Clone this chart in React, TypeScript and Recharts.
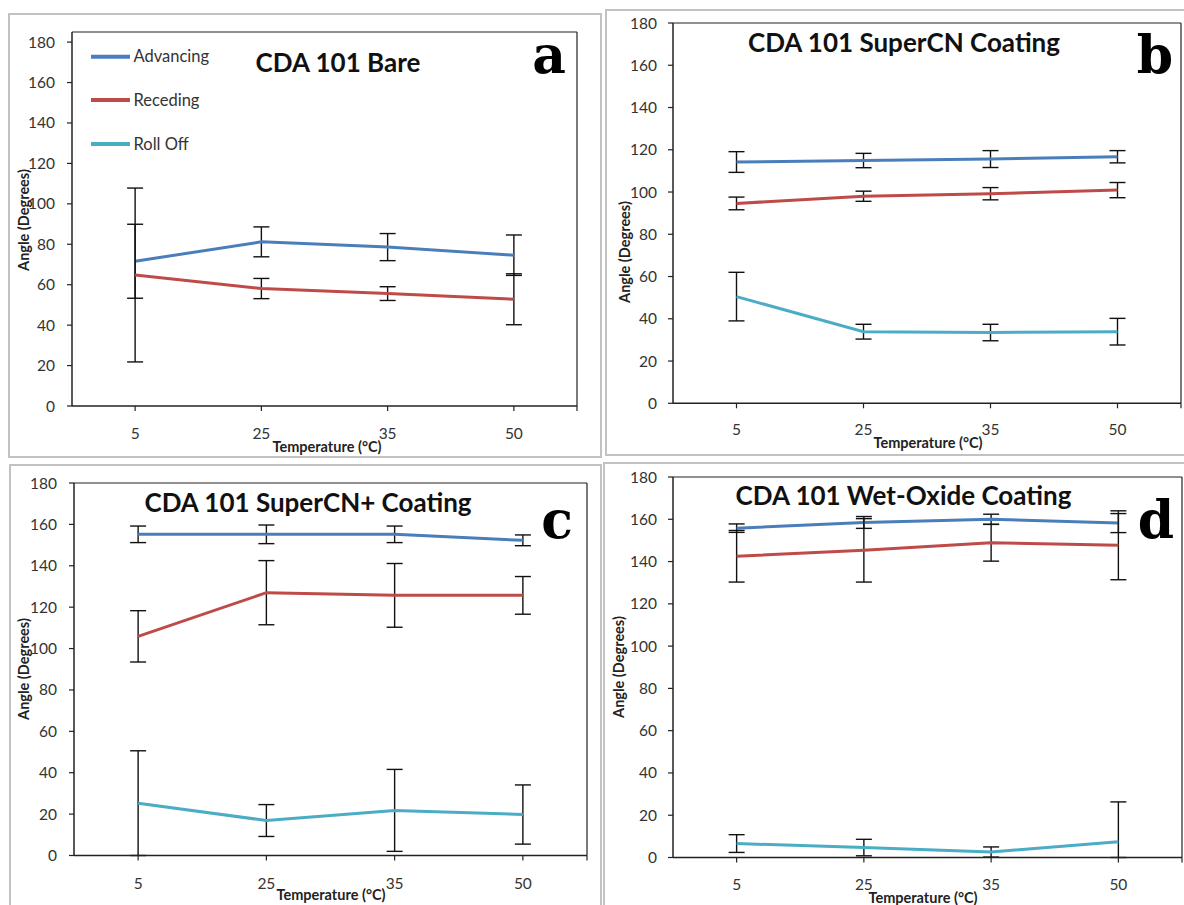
import React from 'react';
import { LineChart, Line, XAxis, YAxis, ErrorBar, ReferenceLine } from 'recharts';

// ---------- data ----------
const categories = ['5', '25', '35', '50'];
const yTicks = [0, 20, 40, 60, 80, 100, 120, 140, 160, 180];

// Panel a: CDA 101 Bare
const aAdvancing = [71.6, 81.2, 78.6, 74.6];
const aAdvancingErr = [18.3, 7.4, 6.7, 10.0];
const aReceding = [64.8, 58.1, 55.6, 52.8];
const aRecedingErr = [43.0, 5.0, 3.4, 12.6];

// Panel b: CDA 101 SuperCN Coating
const bAdvancing = [114.2, 114.9, 115.6, 116.7];
const bAdvancingErr = [4.9, 3.4, 4.0, 2.9];
const bReceding = [94.6, 98.0, 99.2, 100.9];
const bRecedingErr = [3.0, 2.4, 2.9, 3.6];
const bRollOff = [50.5, 33.9, 33.5, 33.9];
const bRollOffErr = [11.5, 3.5, 3.9, 6.3];

// Panel c: CDA 101 SuperCN+ Coating
const cAdvancing = [155.2, 155.2, 155.2, 152.3];
const cAdvancingErr = [4.0, 4.5, 4.0, 2.6];
const cReceding = [105.9, 127.0, 125.7, 125.7];
const cRecedingErr = [12.4, 15.5, 15.4, 9.1];
const cRollOff = [25.3, 16.9, 21.8, 19.8];
const cRollOffErr = [25.3, 7.7, 19.8, 14.3];

// Panel d: CDA 101 Wet-Oxide Coating
const dAdvancing = [155.8, 158.5, 160.0, 158.2];
const dAdvancingErr = [2.0, 2.8, 2.4, 4.5];
const dReceding = [142.5, 145.3, 148.9, 147.7];
const dRecedingErr = [12.2, 15.0, 8.7, 16.3];
const dRollOff = [6.6, 4.7, 2.6, 7.4];
const dRollOffErr = [4.2, 3.9, 2.4, 18.9];

const seriesNames = ['Advancing', 'Receding', 'Roll Off'];
const COLORS = { adv: '#4A7EBB', rec: '#BE4B48', roll: '#4BACC6' };

// error pair [minus, plus], minus clipped at the axis (0)
const pair = (v: number, e: number) => [Math.min(e, v), e];

function buildRows(adv: number[], advE: number[], rec: number[], recE: number[], roll?: number[], rollE?: number[]) {
  return categories.map((c, i) => {
    const row: any = {
      x: i,
      cat: c,
      adv: adv[i],
      advErr: pair(adv[i], advE[i]),
      rec: rec[i],
      recErr: pair(rec[i], recE[i]),
    };
    if (roll && rollE) {
      row.roll = roll[i];
      row.rollErr = pair(roll[i], rollE[i]);
    }
    return row;
  });
}

const dataA = buildRows(aAdvancing, aAdvancingErr, aReceding, aRecedingErr);
const dataB = buildRows(bAdvancing, bAdvancingErr, bReceding, bRecedingErr, bRollOff, bRollOffErr);
const dataC = buildRows(cAdvancing, cAdvancingErr, cReceding, cRecedingErr, cRollOff, cRollOffErr);
const dataD = buildRows(dAdvancing, dAdvancingErr, dReceding, dRecedingErr, dRollOff, dRollOffErr);

const FONT = 'Lato, "Open Sans", sans-serif';
const AX = '#222';
const TICK_FS = 15.5;

type PanelProps = {
  data: any[];
  plotLeft: number;
  plotTop: number;
  plotRight: number;
  plotBottom: number;
  yMax: number;
  hasRoll: boolean;
  xTickMargin: number;
  yTickMargin: number;
};

function Panel({ data, plotLeft, plotTop, plotRight, plotBottom, yMax, hasRoll, xTickMargin, yTickMargin }: PanelProps) {
  const YW = 60;
  const MT = 10;
  const MR = 6;
  const XH = 40;
  const left = plotLeft - YW;
  const top = plotTop - MT;
  const width = plotRight + MR - left;
  const height = plotBottom + XH - top;
  const errProps = { width: 8, stroke: '#111', strokeWidth: 1.4, direction: 'y' as const };
  return (
    <div style={{ position: 'absolute', left, top, width, height }}>
      <LineChart width={width} height={height} data={data} margin={{ top: MT, right: MR, bottom: 0, left: 0 }}>
        <XAxis
          type="number"
          dataKey="x"
          domain={[-0.5, 3.5]}
          ticks={[0, 1, 2, 3, 3.5]}
          allowDataOverflow
          tickFormatter={(v: number) => (Number.isInteger(v) ? categories[v] : '')}
          height={XH}
          tickSize={5}
          tickMargin={xTickMargin}
          axisLine={{ stroke: AX, strokeWidth: 1.5 }}
          tickLine={{ stroke: AX, strokeWidth: 1.2 }}
          tick={{ fill: '#333', fontSize: TICK_FS, fontFamily: FONT }}
        />
        <YAxis
          type="number"
          domain={[0, yMax]}
          ticks={yTicks}
          allowDataOverflow
          width={YW}
          tickSize={5}
          tickMargin={yTickMargin}
          axisLine={{ stroke: AX, strokeWidth: 1.5 }}
          tickLine={{ stroke: AX, strokeWidth: 1.2 }}
          tick={{ fill: '#333', fontSize: TICK_FS, fontFamily: FONT }}
        />
        <ReferenceLine y={yMax} stroke={AX} strokeWidth={1.2} />
        <ReferenceLine x={3.5} stroke={AX} strokeWidth={1.2} />
        <Line dataKey="adv" name={seriesNames[0]} stroke={COLORS.adv} strokeWidth={3} dot={false} isAnimationActive={false}>
          <ErrorBar dataKey="advErr" {...errProps} />
        </Line>
        <Line dataKey="rec" name={seriesNames[1]} stroke={COLORS.rec} strokeWidth={3} dot={false} isAnimationActive={false}>
          <ErrorBar dataKey="recErr" {...errProps} />
        </Line>
        {hasRoll && (
          <Line dataKey="roll" name={seriesNames[2]} stroke={COLORS.roll} strokeWidth={3} dot={false} isAnimationActive={false}>
            <ErrorBar dataKey="rollErr" {...errProps} />
          </Line>
        )}
      </LineChart>
    </div>
  );
}

const titles = ['CDA 101 Bare', 'CDA 101 SuperCN Coating', 'CDA 101 SuperCN+ Coating', 'CDA 101 Wet-Oxide Coating'];
const letters = ['a', 'b', 'c', 'd'];
const yLabel = 'Angle (Degrees)';
const xLabel = 'Temperature (°C)';

export default function App() {
  const titlePos = [
    [338, 72],
    [904, 52],
    [308, 511.5],
    [903.5, 505],
  ];
  const letterPos = [
    [549, 73],
    [1155, 73],
    [557, 538],
    [1156, 538],
  ];
  const yLabelPos = [
    [23, 220],
    [624, 252],
    [23, 669],
    [618, 667],
  ];
  const xLabelPos = [
    [327, 452],
    [928, 447.5],
    [331, 900],
    [923, 903],
  ];
  const legendY = [56.7, 100, 144];
  const legendColors = [COLORS.adv, COLORS.rec, COLORS.roll];
  const border = '2px solid #c2c2c2';
  return (
    <div style={{ position: 'absolute', left: 0, top: 0, width: 1184, height: 905, overflow: 'hidden', background: '#fff' }}>
      <div style={{ position: 'absolute', left: 8, top: 13, width: 594, height: 445, border, boxSizing: 'border-box' }} />
      <div style={{ position: 'absolute', left: 605, top: 9, width: 600, height: 447, border, boxSizing: 'border-box' }} />
      <div style={{ position: 'absolute', left: 9, top: 464, width: 593, height: 460, border, boxSizing: 'border-box' }} />
      <div style={{ position: 'absolute', left: 603, top: 462, width: 600, height: 460, border, boxSizing: 'border-box' }} />

      <Panel data={dataA} plotLeft={72} plotTop={32} plotRight={577} plotBottom={406} yMax={185} hasRoll={false} xTickMargin={17} yTickMargin={12} />
      <Panel data={dataB} plotLeft={673} plotTop={23} plotRight={1181} plotBottom={403.3} yMax={180} hasRoll={true} xTickMargin={16} yTickMargin={11} />
      <Panel data={dataC} plotLeft={74} plotTop={482.5} plotRight={587} plotBottom={855} yMax={180} hasRoll={true} xTickMargin={17} yTickMargin={12} />
      <Panel data={dataD} plotLeft={673} plotTop={476.5} plotRight={1182} plotBottom={857} yMax={180} hasRoll={true} xTickMargin={16} yTickMargin={11} />

      <svg width={1184} height={905} style={{ position: 'absolute', left: 0, top: 0, pointerEvents: 'none' }}>
        {titles.map((t, i) => (
          <text key={'t' + i} x={titlePos[i][0]} y={titlePos[i][1]} textAnchor="middle" fontFamily={FONT} fontWeight="bold" fontSize={26} fill="#111">
            {t}
          </text>
        ))}
        {letters.map((t, i) => (
          <text key={'l' + i} x={letterPos[i][0]} y={letterPos[i][1]} textAnchor="middle" fontFamily='"DejaVu Serif", "Liberation Serif", serif' fontWeight="bold" fontSize={52} fill="#000">
            {t}
          </text>
        ))}
        {yLabelPos.map((p, i) => (
          <text key={'y' + i} transform={`translate(${p[0]},${p[1]}) rotate(-90)`} textAnchor="middle" dominantBaseline="central" fontFamily={FONT} fontWeight="bold" fontSize={14.5} fill="#222">
            {yLabel}
          </text>
        ))}
        {xLabelPos.map((p, i) => (
          <text key={'x' + i} x={p[0]} y={p[1]} textAnchor="middle" fontFamily={FONT} fontWeight="bold" fontSize={14.5} fill="#222">
            {xLabel}
          </text>
        ))}
        {seriesNames.map((n, i) => (
          <g key={'lg' + i}>
            <line x1={91} x2={130} y1={legendY[i]} y2={legendY[i]} stroke={legendColors[i]} strokeWidth={4} />
            <text x={133.5} y={legendY[i] + 5.5} fontFamily={FONT} fontSize={16.5} fill="#333">
              {n}
            </text>
          </g>
        ))}
      </svg>
    </div>
  );
}
